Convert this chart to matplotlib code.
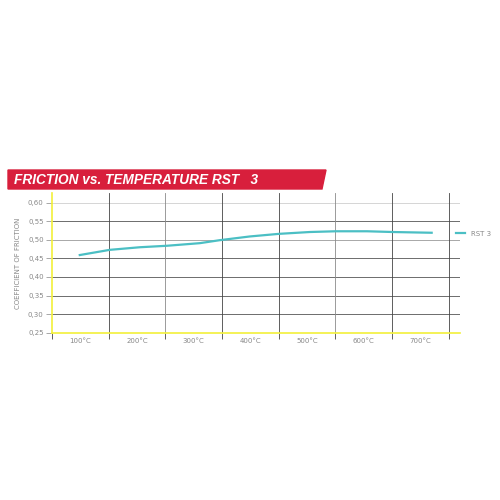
import matplotlib.pyplot as plt
from matplotlib.patches import Polygon
from matplotlib.ticker import FuncFormatter

# data (x in temperature-band units, 0.5 = centre of 100°C band)
temp_labels = ['100°C', '200°C', '300°C', '400°C', '500°C', '600°C', '700°C']
x_pos = [0.49, 1.02, 1.55, 2.03, 2.61, 2.96, 3.49, 4.00, 4.55, 5.01, 5.56, 6.01, 6.70]
mu = [0.459, 0.473, 0.480, 0.484, 0.491, 0.499, 0.509, 0.516, 0.521, 0.523, 0.523, 0.521, 0.519]
y_ticks = [0.25, 0.30, 0.35, 0.40, 0.45, 0.50, 0.55, 0.60]

fig = plt.figure(figsize=(5, 5), dpi=100)
ax = fig.add_axes([0.104, 0.3346, 0.816, 0.2794])

ax.set_xlim(0, 7.2)
ax.set_ylim(0.25, 0.626)

# grid
grid_cols = {0.60: '#cfcfcf', 0.50: '#9a9a9a'}
for yv in y_ticks[1:]:
    ax.axhline(yv, color=grid_cols.get(yv, '#555555'), lw=0.6, zorder=1)
for xv in range(1, 8):
    c = '#8a8a8a' if xv in (2, 5) else '#444444'
    ax.axvline(xv, color=c, lw=0.6, zorder=1)

ax.plot(x_pos, mu, color='#4bbfc4', lw=1.6, label='RST 3', zorder=3)

for s in ['top', 'right']:
    ax.spines[s].set_visible(False)
ax.spines['left'].set_color('#f2f03a')
ax.spines['bottom'].set_color('#f2f03a')
ax.spines['left'].set_linewidth(1.2)
ax.spines['bottom'].set_linewidth(1.2)

ax.set_yticks(y_ticks)
ax.yaxis.set_major_formatter(FuncFormatter(lambda v, p: ('%.2f' % v).replace('.', ',')))
ax.tick_params(axis='y', length=4, width=0.6, color='#999999', labelsize=5,
               labelcolor='#888888', pad=2)

ax.set_xticks(range(0, 8))
ax.set_xticks([i + 0.5 for i in range(7)], minor=True)
ax.set_xticklabels([''] * 8)
ax.set_xticklabels(temp_labels, minor=True)
ax.tick_params(axis='x', which='major', length=4, width=0.6, color='#444444')
ax.tick_params(axis='x', which='minor', length=0, labelsize=5, labelcolor='#888888', pad=4)

ax.set_ylabel('COEFFICIENT OF FRICTION', fontsize=5, color='#888888', labelpad=5)

leg = ax.legend(loc='center left', bbox_to_anchor=(0.99, 0.71), frameon=False,
                fontsize=5, handlelength=1.3, handletextpad=0.8,
                borderpad=0, borderaxespad=0)
for t in leg.get_texts():
    t.set_color('#888888')

# red title banner
banner = Polygon([[8 / 500, 1 - 170 / 500], [326 / 500, 1 - 170 / 500],
                  [322 / 500, 1 - 189 / 500], [8 / 500, 1 - 189 / 500]],
                 closed=True, transform=fig.transFigure, color='#d81f3c', zorder=0)
fig.patches.append(banner)
fig.text(14 / 500, 1 - 180 / 500, 'FRICTION vs. TEMPERATURE RST   3', color='white',
         family='Liberation Sans', fontsize=9.8, fontweight='bold', fontstyle='italic',
         va='center', ha='left')

fig.savefig('out.png', dpi=100)
